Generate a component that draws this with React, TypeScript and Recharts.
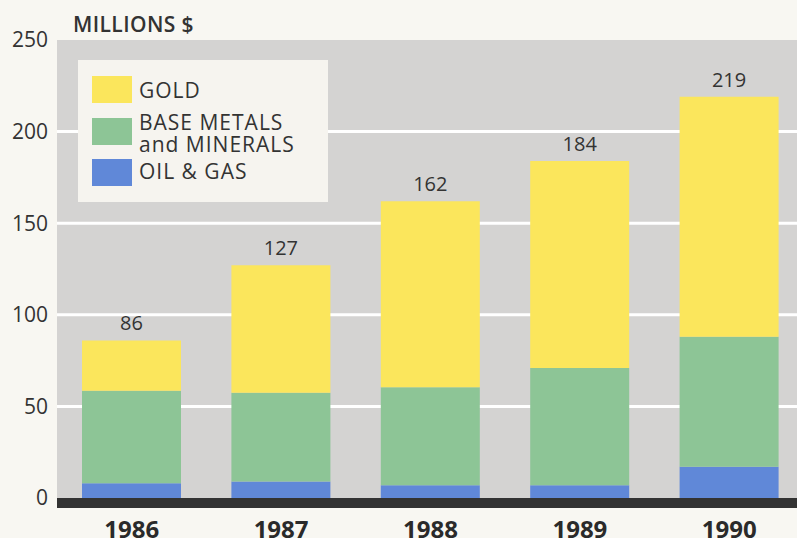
import React from 'react';
import { BarChart, Bar, XAxis, YAxis, CartesianGrid, LabelList } from 'recharts';

const years = ['1986', '1987', '1988', '1989', '1990'];
const oilGas = [8, 9, 7, 7, 17];
const baseMetals = [50.5, 48.5, 53.5, 64, 71];
const gold = [27.5, 69.5, 101.5, 113, 131];
const totals = [86, 127, 162, 184, 219];
const yTicks = [0, 50, 100, 150, 200, 250];
const gridValues = [50, 100, 150, 200];

const data = years.map((y, i) => ({
  year: y,
  oil: oilGas[i],
  metals: baseMetals[i],
  gold: gold[i],
  total: totals[i],
}));

const FONT = '"Open Sans", "Noto Sans", sans-serif';
const TEXT = '#333333';
const C_GOLD = '#fbe65c';
const C_GREEN = '#8dc596';
const C_BLUE = '#6088d8';

const LegendBox = () => {
  const sw = (top: number, color: string) => (
    <div style={{ position: 'absolute', left: 14, top, width: 40, height: 27, background: color }} />
  );
  const txt = (top: number, s: string) => (
    <div style={{ position: 'absolute', left: 61, top, fontSize: 21, lineHeight: '21px', color: TEXT, fontFamily: FONT, whiteSpace: 'nowrap', letterSpacing: 1 }}>{s}</div>
  );
  return (
    <div style={{ position: 'absolute', left: 78, top: 60, width: 250, height: 142, background: '#f6f4ef' }}>
      {sw(16, C_GOLD)}
      {sw(58, C_GREEN)}
      {sw(99, C_BLUE)}
      {txt(20, 'GOLD')}
      {txt(52, 'BASE METALS')}
      {txt(74, 'and MINERALS')}
      {txt(101, 'OIL & GAS')}
    </div>
  );
};

export default function App() {
  return (
    <div style={{ position: 'absolute', left: 0, top: 0, width: 797, height: 538, overflow: 'hidden', background: '#f8f7f2', fontFamily: FONT }}>
      <BarChart
        width={804}
        height={538}
        data={data}
        margin={{ top: 40, right: 0, bottom: 0, left: 0 }}
        barSize={99}
      >
        <CartesianGrid vertical={false} horizontalValues={gridValues} stroke="#ffffff" strokeWidth={3} fill="#d4d3d2" />
        <XAxis
          dataKey="year"
          height={40}
          tickLine={false}
          tickSize={0}
          tickMargin={23}
          axisLine={{ stroke: '#333333', strokeWidth: 10, transform: 'translate(0,5)' }}
          tick={{ fontSize: 24, fontWeight: 700, fill: '#2a2a2a', fontFamily: FONT }}
        />
        <YAxis
          width={57}
          domain={[0, 250]}
          ticks={yTicks}
          tickLine={false}
          axisLine={false}
          tickSize={0}
          tickMargin={9}
          tick={{ fontSize: 21, fill: TEXT, fontFamily: FONT }}
        />
        <Bar dataKey="oil" stackId="a" fill={C_BLUE} isAnimationActive={false} />
        <Bar dataKey="metals" stackId="a" fill={C_GREEN} isAnimationActive={false} />
        <Bar dataKey="gold" stackId="a" fill={C_GOLD} isAnimationActive={false}>
          <LabelList dataKey="total" position="top" offset={10} style={{ fontSize: 20, fill: TEXT, fontFamily: FONT }} />
        </Bar>
      </BarChart>
      <div style={{ position: 'absolute', left: 73, top: 10, fontSize: 21, fontWeight: 600, color: TEXT, fontFamily: FONT, whiteSpace: 'nowrap', letterSpacing: 0.4 }}>MILLIONS $</div>
      <LegendBox />
    </div>
  );
}
